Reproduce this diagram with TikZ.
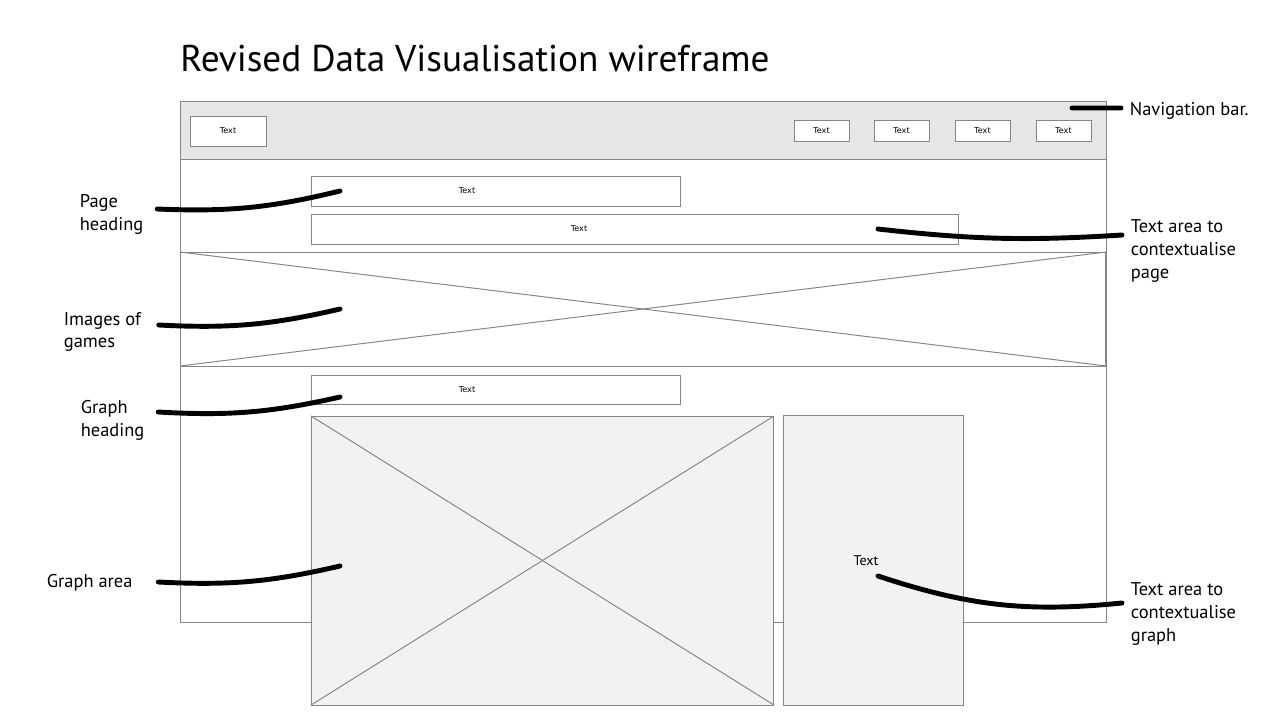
\documentclass[tikz,border=0pt]{standalone}
\usepackage{fontspec}
\setmainfont{PT Sans}
\newfontfamily\boxfont{DejaVu Sans}
\definecolor{framegray}{HTML}{858585}
\definecolor{navgray}{HTML}{E6E6E6}
\definecolor{areagray}{HTML}{F2F2F2}
\begin{document}
\begin{tikzpicture}[
    x=0.02cm, y=-0.02cm,
    frame/.style={draw=framegray, line width=0.55pt},
    box/.style={
        rectangle,
        frame,
        fill=white,
        inner sep=0pt,
        outer sep=0pt,
        font=\boxfont\fontsize{4.6}{5}\selectfont
    },
    boxtext/.style={inner sep=0pt, font=\boxfont\fontsize{4.6}{5}\selectfont},
    note/.style={
        align=left,
        inner sep=2pt,
        font=\fontsize{10.5}{13}\selectfont
    },
    pointer/.style={line width=2.8pt, line cap=round}
]
\useasboundingbox (0,0) rectangle (1280,720);

\node[anchor=base west, inner sep=0pt, font=\fontsize{21.2}{25}\selectfont] (title) at (180,71) {Revised Data Visualisation wireframe};

% page frame and nav bar
\draw[frame, fill=navgray] (180,101) rectangle (1106,159);
\draw[frame] (180,159) rectangle (1106,622);
\draw[frame] (180,252) -- (1106,252);

\node[box, minimum width=1.52cm, minimum height=0.6cm] (navhome) at (228,131) {Text};
\foreach \x [count=\i] in {821.5,901.5,982.5,1063.5}
    \node[box, minimum width=1.1cm, minimum height=0.42cm] (nav\i) at (\x,130.5) {Text};

% heading and text area
\node[box, minimum width=7.4cm, minimum height=0.6cm] (pagehead) at (496,191) {};
\node[boxtext] at ([xshift=-0.58cm]pagehead.center) {Text};
\node[box, minimum width=12.96cm, minimum height=0.6cm] (pagetext) at (635,229) {};
\node[boxtext] at ([xshift=-1.12cm]pagetext.center) {Text};

% images
\node[box, minimum width=18.52cm, minimum height=2.28cm] (images) at (643,309) {};
\draw[frame] (images.north west) -- (images.south east);
\draw[frame] (images.south west) -- (images.north east);

% graph
\node[box, minimum width=7.4cm, minimum height=0.58cm] (graphhead) at (496,389.5) {};
\node[boxtext] at ([xshift=-0.58cm]graphhead.center) {Text};
\node[box, fill=areagray, minimum width=9.26cm, minimum height=5.78cm] (graph) at (542.5,560.5) {};
\draw[frame] (graph.north west) -- (graph.south east);
\draw[frame] (graph.south west) -- (graph.north east);
\node[box, fill=areagray, minimum width=3.6cm, minimum height=5.8cm, font=\fontsize{8}{9}\selectfont] (graphtext) at (873,560) {};
\node[font=\fontsize{8}{9}\selectfont, inner sep=0pt] at ([xshift=-0.14cm, yshift=-0.02cm]graphtext.center) {Text};

% notes
\node[note, anchor=west] (lblnav) at (1126,111) {Navigation bar.};
\node[note, anchor=west] (lblpagetext) at (1127,251) {Text area to\\contextualise\\page};
\node[note, anchor=west] (lblgraphtext) at (1127,614) {Text area to\\contextualise\\graph};
\node[note, anchor=west] (lblpagehead) at (76,214) {Page\\heading};
\node[note, anchor=west] (lblimages) at (60,332) {Images of\\games};
\node[note, anchor=west] (lblgraphhead) at (77,420) {Graph\\heading};
\node[note, anchor=west] (lblgraph) at (43,583) {Graph area};

\coordinate (ptnav) at (1072,108);
\coordinate (ptpagetext) at (878,229);
\coordinate (ptgraphtext) at (878,576);
\coordinate (ptpagehead) at (340,191);
\coordinate (ptimages) at (340,309);
\coordinate (ptgraphhead) at (340,397);
\coordinate (ptgraph) at (340,566);

\draw[pointer] ([xshift=-0.1cm, yshift=0.06cm]lblnav.west) -- (ptnav);
\draw[pointer] ([xshift=-0.1cm, yshift=0.32cm]lblpagetext.west) to[bend left=5] (ptpagetext);
\draw[pointer] ([xshift=-0.1cm, yshift=0.22cm]lblgraphtext.west) to[bend left=12] (ptgraphtext);
\draw[pointer] ([xshift=0.2cm, yshift=0.1cm]lblpagehead.east) to[bend right=8] (ptpagehead);
\draw[pointer] ([xshift=0.28cm, yshift=0.14cm]lblimages.east) to[bend right=8] (ptimages);
\draw[pointer] ([xshift=0.2cm, yshift=0.16cm]lblgraphhead.east) to[bend right=8] (ptgraphhead);
\draw[pointer] ([xshift=0.44cm, yshift=0.02cm]lblgraph.east) to[bend right=8] (ptgraph);

\end{tikzpicture}
\end{document}
